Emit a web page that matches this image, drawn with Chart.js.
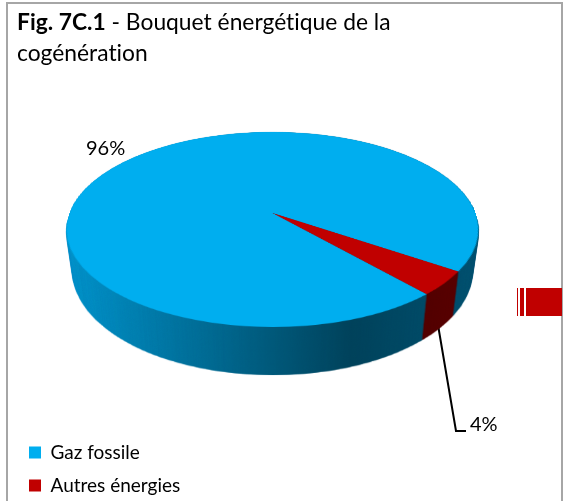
<!DOCTYPE html>
<html>
<head>
<meta charset="utf-8">
<style>
  body { margin: 0; background: #fff; }
  canvas { display: block; }
</style>
</head>
<body>
<canvas id="myChart" width="563" height="501"></canvas>
<script src="https://cdn.jsdelivr.net/npm/chart.js@4"></script>
<script>
const categories = ['Gaz fossile', 'Autres énergies'];
const values = [96, 4];
const colors = ['#00AEEF', '#C00000'];

// where the tilted disc sits in the picture
const centerX = 272.5, apexY = 213, topY = 132, frontY = 327, halfWidth = 203;
// top face to bottom face of the disc
const bottomShiftY = 41.5, bottomScaleX = 0.97, bottomScaleY = 1.067, ellipseY = 229.5;
const textFont = 'Lato';

// perspective of the disc (t = -1 back edge, t = 1 front edge)
const persp = (2 * apexY - topY - frontY) / (frontY - topY);
const perspA = frontY * (1 + persp) - apexY;

function layer() {
    const c = document.createElement('canvas');
    c.width = 563; c.height = 501;
    return c;
}

const tiltedPie = {
    id: 'tiltedPie',
    beforeDatasetsDraw(chart) {
        // keep what is already drawn (legend), the pie goes on a clean canvas
        this.bg = layer();
        this.bg.getContext('2d').drawImage(chart.canvas, 0, 0);
        chart.ctx.clearRect(0, 0, 563, 501);
    },
    afterDatasetsDraw(chart) {
        const ctx = chart.ctx;
        const arc = chart.getDatasetMeta(0).data[0];
        const R = arc.outerRadius;

        const src = layer();
        src.getContext('2d').drawImage(chart.canvas, 0, 0);

        // warp the flat pie row by row
        const top = layer();
        const tctx = top.getContext('2d');
        tctx.imageSmoothingQuality = 'high';
        for (let y = topY - 1; y < frontY + 1; y++) {
            const t0 = (y - apexY) / (perspA - y * persp);
            const t1 = (y + 1 - apexY) / (perspA - (y + 1) * persp);
            const w = halfWidth / (1 + persp * (t0 + t1) / 2);
            tctx.drawImage(src, arc.x - R, arc.y + R * t0, 2 * R, R * (t1 - t0), centerX - w, y, 2 * w, 1);
        }

        // side wall: stacked copies between the bottom and top faces, then shaded
        const wall = layer();
        const wctx = wall.getContext('2d');
        const cy = ellipseY;
        for (let s = 1; s >= 0; s -= 0.01) {
            const sx = 1 + (bottomScaleX - 1) * s;
            const sy = 1 + (bottomScaleY - 1) * s;
            wctx.setTransform(sx, 0, 0, sy, centerX * (1 - sx), cy * (1 - sy) + bottomShiftY * s);
            wctx.drawImage(top, 0, 0);
        }
        wctx.setTransform(1, 0, 0, 1, 0, 0);
        const shade = wctx.createLinearGradient(66, 0, 480, 0);
        shade.addColorStop(0, 'rgba(0,0,0,0.15)');
        shade.addColorStop(0.32, 'rgba(0,0,0,0.37)');
        shade.addColorStop(0.69, 'rgba(0,0,0,0.62)');
        shade.addColorStop(1, 'rgba(0,0,0,0.53)');
        wctx.globalCompositeOperation = 'source-atop';
        wctx.fillStyle = shade;
        wctx.fillRect(0, 0, 563, 501);

        ctx.clearRect(0, 0, 563, 501);

        // frame
        ctx.strokeStyle = '#a6a6a6';
        ctx.lineWidth = 2;
        ctx.beginPath();
        ctx.moveTo(7, 501); ctx.lineTo(7, 3); ctx.lineTo(562, 3); ctx.lineTo(562, 501);
        ctx.stroke();

        ctx.drawImage(this.bg, 0, 0);

        // red scrap at the right edge of the original
        ctx.fillStyle = colors[1];
        ctx.fillRect(517, 288, 1, 28);
        ctx.fillRect(520, 288, 4, 28);
        ctx.fillRect(526, 288, 36, 28);

        // leader line
        ctx.strokeStyle = '#000';
        ctx.lineWidth = 2;
        ctx.beginPath();
        ctx.moveTo(438, 325); ctx.lineTo(456, 431); ctx.lineTo(466, 431);
        ctx.stroke();

        ctx.drawImage(wall, 0, 0);
        ctx.drawImage(top, 0, 0);

        // labels
        ctx.fillStyle = '#000';
        ctx.textBaseline = 'alphabetic';
        ctx.textAlign = 'left';
        ctx.letterSpacing = '0.01px';
        ctx.font = '20px ' + textFont;
        ctx.fillText(values[0] + '%', 86, 155);
        ctx.fillText(values[1] + '%', 470, 431);

        // title
        ctx.font = 'bold 22.8px ' + textFont;
        ctx.fillText('Fig. 7C.1', 17, 30);
        const w = ctx.measureText('Fig. 7C.1').width;
        ctx.font = '22.8px ' + textFont;
        ctx.fillText(' - Bouquet énergétique de la', 17 + w, 30);
        ctx.fillText('cogénération', 17, 61);
        ctx.letterSpacing = '0px';
    }
};

const myChart = new Chart(document.getElementById('myChart'), {
    type: 'pie',
    data: {
        labels: categories,
        datasets: [{
            data: values,
            backgroundColor: colors,
            borderWidth: 0
        }]
    },
    options: {
        responsive: false,
        animation: false,
        rotation: 138.45,
        layout: { padding: { left: 15, right: 0, top: 0, bottom: -8 } },
        plugins: {
            tooltip: { enabled: false },
            legend: {
                position: 'left',
                align: 'end',
                labels: {
                    boxWidth: 12,
                    boxHeight: 12,
                    padding: 14,
                    color: '#000',
                    font: { family: textFont, size: 19 }
                }
            }
        }
    },
    plugins: [tiltedPie]
});
</script>
</body>
</html>
